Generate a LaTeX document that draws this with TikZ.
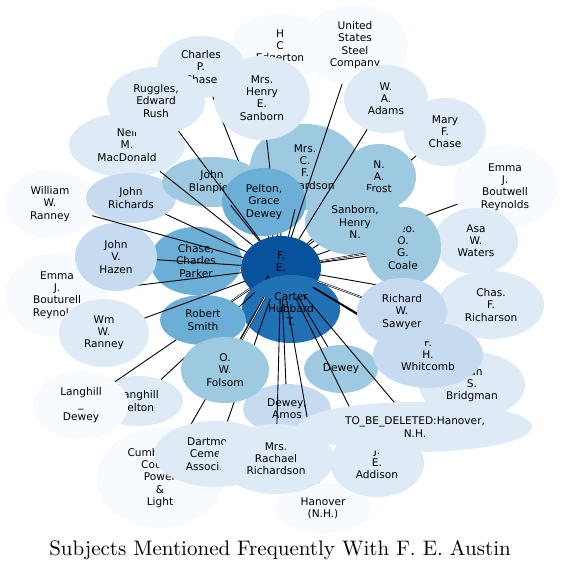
\documentclass[tikz,border=0pt]{standalone}
\usepackage{fontspec}
\newfontfamily\nodefont{DejaVu Sans}
\newfontfamily\titlefont{lmroman10-regular.otf}
\usetikzlibrary{shapes.geometric}
\definecolor{ink}{HTML}{000000}
\definecolor{blue1}{HTML}{F7FBFF}
\definecolor{blue2}{HTML}{DEEBF7}
\definecolor{blue3}{HTML}{C6DBEF}
\definecolor{blue4}{HTML}{9ECAE1}
\definecolor{blue5}{HTML}{6BAED6}
\definecolor{blue7}{HTML}{2171B5}
\definecolor{blue8}{HTML}{08519C}
\pgfdeclarelayer{outer}
\pgfdeclarelayer{hidden}
\pgfdeclarelayer{top}
\pgfsetlayers{outer,hidden,main,top}
\tikzset{
  subj/.style={ellipse, fill=#1, draw=none, text=ink, align=center,
    inner sep=0pt, outer sep=0pt, font=\nodefont\fontsize{10.6}{12.2}\selectfont},
  sz/.style 2 args={minimum width=#1, minimum height=#2},
  link/.style={draw=ink, line width=0.9pt},
  dlink/.style={draw=ink, line width=0.55pt, double=white, double distance=0.7pt},
  ttl/.style={font=\titlefont\fontsize{21}{25}\selectfont, text=ink, anchor=base},
}

\begin{document}
\begin{tikzpicture}[x=1pt, y=-1pt]
  \useasboundingbox (0,0) rectangle (561,569);

  % ---------------- outer ring ----------------
  \begin{pgfonlayer}{outer}
    \node[subj=blue1, sz={104}{84}] (emmabo) at (57,295) {Emma\\J.\\Bouturell\\Reynolds};
    \node[subj=blue1, sz={90}{68}] (wranney) at (50,204) {William\\W.\\Ranney};
    \node[subj=blue1, sz={126}{100}] (cumber) at (160,478) {Cumberland\\County\\Power\\\&\\Light};
    \node[subj=blue2, sz={90}{50}] (lfelton) at (138,401) {Langhill\\Felton};
    \node[subj=blue1, sz={96}{50}] (hanover) at (323,508) {Hanover\\(N.H.)};
    \node[subj=blue2, sz={94}{68}] (addison) at (377,463) {J.\\E.\\Addison};
    \node[subj=blue2, sz={106}{66}] (bridgman) at (472,385) {Dan\\S.\\Bridgman};
    \node[subj=blue1, sz={104}{84}] (emmabw) at (505,187) {Emma\\J.\\Boutwell\\Reynolds};
    \node[subj=blue2, sz={84}{66}] (asa) at (476,241) {Asa\\W.\\Waters};
    \node[subj=blue2, sz={106}{68}] (chasf) at (491,305) {Chas.\\F.\\Richarson};
    \node[subj=blue2, sz={82}{68}] (marychase) at (445,132) {Mary\\F.\\Chase};
    \node[subj=blue1, sz={106}{80}] (ussteel) at (355,45) {United\\States\\Steel\\Company};
    \node[subj=blue1, sz={100}{66}] (edgerton) at (280,47) {H\\C\\Edgerton};
    \node[subj=blue2, sz={88}{62}] (cpchase) at (201,67) {Charles\\P.\\Chase};
    \node[subj=blue2, sz={116}{64}] (neil) at (127,145) {Neil\\M.\\MacDonald};
    % hub
    \node[subj=blue8, sz={80}{64}] (fea) at (281,268) {F.\\E.\\Austin};
    \node[subj=blue7, sz={98}{68}] (carter) at (291,309) {Carter\\Hubbard\\T.};
    \node[subj=blue4, sz={74}{48}] (dewey) at (341,369) {Dewey};
    \node[subj=blue3, sz={88}{50}] (deweyamos) at (287,409) {Dewey,\\Amos};
    \node[subj=blue5, sz={92}{68}] (chase) at (196,261) {Chase,\\Charles\\Parker};
  \end{pgfonlayer}

  % ---------------- inner ring ----------------
  \node[subj=blue4, sz={110}{86}] (mrscfr) at (305,167) {Mrs.\\C.\\F.\\Richardson};
  \node[subj=blue4, sz={76}{80}] (coale) at (403,247) {Geo.\\O.\\G.\\Coale};
  \node[subj=blue4, sz={74}{66}] (frost) at (379,177) {N.\\A.\\Frost};
  \node[subj=blue4, sz={100}{66}] (sanborn) at (355,222) {Sanborn,\\Henry\\N.};
  \node[subj=blue3, sz={110}{66}] (whitcomb) at (428,355) {F.\\H.\\Whitcomb};
  \node[subj=blue3, sz={90}{68}] (sawyer) at (402,312) {Richard\\W.\\Sawyer};
  \node[subj=blue2, sz={234}{50}] (tbd) at (415,427) {TO\_BE\_DELETED:Hanover,\\N.H.};
  \node[subj=blue2, sz={124}{66}] (dartmouth) at (216,454) {Dartmouth\\Cemetery\\Association};
  \node[subj=blue2, sz={116}{70}] (rachael) at (276,459) {Mrs.\\Rachael\\Richardson};
  \node[subj=blue2, sz={90}{68}] (wmranney) at (104,333) {Wm\\W.\\Ranney};
  \node[subj=blue1, sz={94}{68}] (ldewey) at (81,405) {Langhill\\\_\\Dewey};
  \node[subj=blue5, sz={86}{50}] (rsmith) at (203,320) {Robert\\Smith};
  \node[subj=blue4, sz={88}{66}] (folsom) at (225,370) {O.\\W.\\Folsom};
  \node[subj=blue3, sz={82}{68}] (hazen) at (116,257) {John\\V.\\Hazen};
  \node[subj=blue3, sz={90}{50}] (jrichards) at (131,198) {John\\Richards};
  \node[subj=blue2, sz={96}{84}] (mrshenry) at (262,98) {Mrs.\\Henry\\E.\\Sanborn};
  \node[subj=blue4, sz={100}{50}] (blanpied) at (212,182) {John\\Blanpied};
  \draw[link] (fea) -- (mrshenry);
  \node[subj=blue5, sz={84}{68}] (pelton) at (264,202) {Pelton,\\Grace\\Dewey};
  \node[subj=blue2, sz={98}{68}] (ruggles) at (156,101) {Ruggles,\\Edward\\Rush};
  \node[subj=blue2, sz={84}{68}] (adams) at (386,99) {W.\\A.\\Adams};

  % ---------------- links under the inner ring ----------------
  \begin{pgfonlayer}{hidden}
    \draw[link] (fea) -- (cpchase) (fea) -- (edgerton) (fea) -- (marychase);
    \draw[link] (fea) -- (emmabw) (fea) -- (asa) (fea) -- (chasf) (fea) -- (frost);
    \draw[link] (fea) -- (whitcomb) (fea) -- (bridgman) (fea) -- (addison);
    \draw[link] (fea) -- (hanover) (fea) -- (dartmouth) (fea) -- (cumber);
    \draw[link] (fea) -- (lfelton) (fea) -- (ldewey) (fea) -- (emmabo);
  \end{pgfonlayer}

  % ---------------- links on top ----------------
  \begin{pgfonlayer}{top}
    \draw[link] (fea) -- (ruggles) (fea) -- (neil) (fea) -- (ussteel) (fea) -- (adams);
    \draw[link] (fea) -- (pelton) (fea) -- (mrscfr) (fea) -- (sanborn);
    \draw[link] (fea) -- (dewey) (fea) -- (tbd) (fea) -- (deweyamos) (fea) -- (rachael);
    \draw[link] (fea) -- (wmranney) (fea) -- (hazen) (fea) -- (wranney);
    \draw[link] (fea) -- (jrichards) (fea) -- (blanpied) (fea) -- (chase);
    \draw[dlink] (fea) -- (coale) (fea) -- (sawyer) (fea) -- (folsom) (fea) -- (rsmith);
  \end{pgfonlayer}

  \node[ttl] (title) at (280,555) {Subjects Mentioned Frequently With F. E. Austin};
\end{tikzpicture}
\end{document}
